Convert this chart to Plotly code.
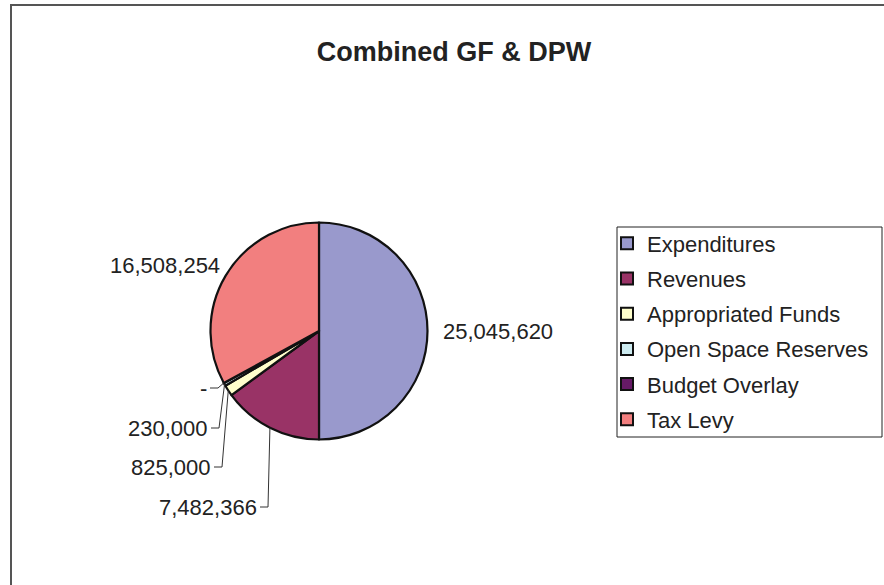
import math
import plotly.graph_objects as go

# ---------------- data ----------------
categories = ["Expenditures", "Revenues", "Appropriated Funds",
              "Open Space Reserves", "Budget Overlay", "Tax Levy"]
values = [25045620, 7482366, 825000, 230000, 0, 16508254]
colors = ["#9999CC", "#993366", "#FFFFCC", "#CDEBF0", "#661A66", "#F27F7F"]
title_text = "Combined GF & DPW"

# value label text (Excel shows zero as "-")
value_text = [f"{v:,}" if v else "-" for v in values]

# ---------------- layout constants (pixels) ----------------
W, H = 884, 585
CX, CY, R = 319, 331, 108.5
FONT = "Liberation Sans, Arial, sans-serif"

# label placement per slice: (x, y, xanchor, leader?)
label_place = [
    (441, 331, "left", False),
    (259, 507, "right", True),
    (213, 467, "right", True),
    (210, 428, "right", True),
    (209, 388, "right", True),
    (222, 266, "right", False),
]


def px(x):
    return x / W


def py(y):
    return 1 - y / H


fig = go.Figure()
fig.add_trace(go.Pie(
    labels=categories,
    values=values,
    sort=False,
    direction="clockwise",
    rotation=0,
    textinfo="none",
    showlegend=False,
    marker=dict(colors=colors, line=dict(color="#111111", width=2.2)),
    domain=dict(x=[px(CX - R), px(CX + R)], y=[py(CY + R), py(CY - R)]),
    hoverinfo="label+value",
))

# legend entries (one per category, same colours as the slices)
for name, col in zip(categories, colors):
    fig.add_trace(go.Scatter(
        x=[None], y=[None], mode="markers", name=name, legendgroup=name,
        marker=dict(symbol="square", size=12, color=col,
                    line=dict(color="#111111", width=2)),
        hoverinfo="skip",
    ))

# annotations + leader lines, anchored on the slice mid-angles
total = sum(values)
cum = 0
annotations = []
shapes = []
for i, v in enumerate(values):
    mid = (cum + v / 2) / total * 360.0
    cum += v
    ax = CX + R * math.sin(math.radians(mid))
    ay = CY - R * math.cos(math.radians(mid))
    lx, ly, anchor, leader = label_place[i]
    annotations.append(dict(
        x=px(lx), y=py(ly), xref="paper", yref="paper",
        text=value_text[i], showarrow=False, xanchor=anchor, yanchor="middle",
        font=dict(family=FONT, size=22, color="#222222"),
    ))
    if leader:
        x0 = lx + 1
        ex = x0 + 8
        path = f"M{px(x0)},{py(ly)} L{px(ex)},{py(ly)} L{px(ax)},{py(ay)}"
        shapes.append(dict(type="path", path=path, xref="paper", yref="paper",
                           line=dict(color="#333333", width=1)))

# chart-area frame (runs off the right and bottom edges)
shapes.append(dict(type="rect", xref="paper", yref="paper",
                   x0=px(11), y0=-0.05, x1=1.05, y1=py(5),
                   line=dict(color="#555555", width=2)))
# legend box
shapes.append(dict(type="rect", xref="paper", yref="paper", layer="below",
                   x0=px(617), y0=py(437), x1=px(882), y1=py(227),
                   fillcolor="white", line=dict(color="#222222", width=1)))

fig.update_layout(
    width=W, height=H,
    margin=dict(l=0, r=0, t=0, b=0),
    paper_bgcolor="white",
    plot_bgcolor="white",
    xaxis=dict(visible=False),
    yaxis=dict(visible=False),
    font=dict(family=FONT, size=22, color="#222222"),
    title=dict(text=title_text, x=px(454), xanchor="center",
               y=py(52), yanchor="middle",
               font=dict(family=FONT, size=27, color="#222222", weight="bold")),
    showlegend=True,
    legend=dict(
        x=px(607), y=py(222.5), xanchor="left", yanchor="top",
        bgcolor="rgba(0,0,0,0)", borderwidth=0,
        font=dict(family=FONT, size=22, color="#222222"),
        traceorder="grouped", tracegroupgap=3.6,
    ),
    annotations=annotations,
    shapes=shapes,
)

fig.write_html("out.html", config={"displayModeBar": False},
               post_script="document.body.style.margin='0';")
